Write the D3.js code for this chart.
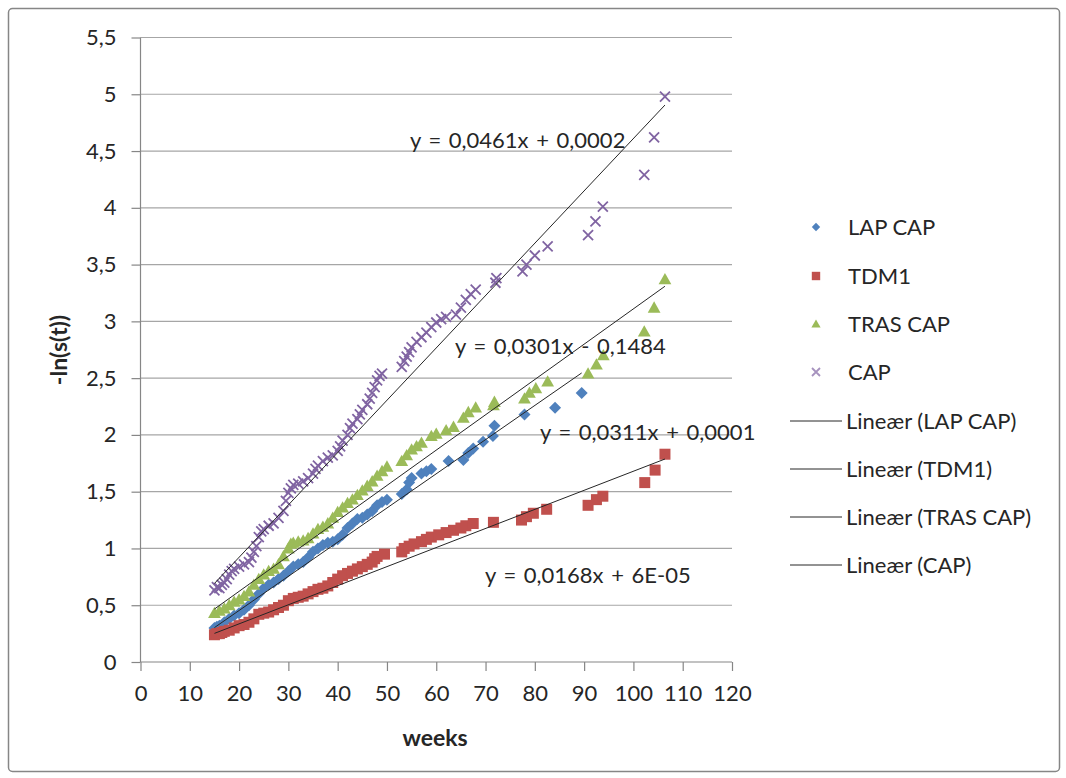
<!DOCTYPE html>
<html>
<head>
<meta charset="utf-8">
<script src="https://cdn.jsdelivr.net/npm/d3@7"></script>
<style>
  body { margin: 0; background: #fff; }
  svg text { font-family: Lato, "Open Sans", sans-serif; fill: #262626; }
</style>
</head>
<body>
<svg id="chart" width="1066" height="778"></svg>
<script>

/**
 * Data: [weeks, -ln(s(t))]
 */
const lapCap = [
  [15,0.30],[15.5,0.31],[16,0.32],[17,0.35],[18,0.38],[19,0.41],[20,0.43],[21,0.46],[22,0.50],[23,0.55],
  [24,0.60],[25,0.65],[26,0.68],[27,0.70],[28,0.73],[29,0.76],[30,0.80],[31,0.84],[32,0.86],[33,0.88],
  [34,0.92],[35,0.97],[36,1.00],[37,1.03],[38,1.05],[39,1.06],[40,1.08],[41,1.12],[42,1.18],[43,1.22],
  [44,1.26],[45,1.27],[46,1.30],[47,1.33],[48,1.38],[49,1.41],[50,1.43],[53,1.48],[54,1.52],[54.5,1.58],
  [55,1.62],[57,1.66],[58,1.68],[59,1.70],[62.5,1.77],[65.5,1.78],[66.5,1.84],[67.5,1.88],[69.5,1.94],
  [71.5,1.99],[71.8,2.08],[77.9,2.18],[84.1,2.24],[89.5,2.37]
];

const tdm1 = [
  [15,0.24],[15.5,0.25],[16,0.25],[16.5,0.26],[17,0.27],[18,0.28],[19,0.30],[20,0.32],[21,0.33],[22,0.35],
  [23,0.38],[24,0.42],[25,0.43],[26,0.44],[27,0.46],[28,0.48],[29,0.50],[30,0.54],[31,0.56],[32,0.57],
  [33,0.58],[34,0.60],[35,0.62],[36,0.64],[37,0.65],[38,0.67],[39,0.70],[40,0.73],[41,0.76],[42,0.78],
  [43,0.80],[44,0.82],[45,0.84],[46,0.86],[47,0.88],[47.5,0.91],[48,0.93],[49.5,0.95],[53,0.97],[53.5,1.00],
  [54.5,1.02],[55.5,1.04],[57,1.06],[58,1.08],[59,1.10],[60.5,1.12],[62,1.14],[63.5,1.16],[65,1.18],[66,1.20],
  [67.5,1.22],[71.6,1.23],[77.3,1.25],[78.3,1.28],[79.7,1.31],[82.4,1.345],[90.8,1.38],[92.5,1.43],[93.8,1.46],
  [102.3,1.58],[104.4,1.69],[106.4,1.83]
];

const trasCap = [
  [15,0.43],[16,0.45],[17,0.47],[18,0.50],[19,0.53],[20,0.55],[21,0.58],[22,0.62],[23,0.68],[24,0.73],
  [25,0.77],[26,0.80],[27,0.82],[28,0.86],[29,0.93],[30,1.00],[30.5,1.04],[31,1.05],[32,1.06],[33,1.07],
  [34,1.09],[35,1.13],[36,1.17],[37,1.19],[38,1.22],[39,1.27],[40,1.32],[41,1.36],[42,1.40],[43,1.43],
  [44,1.47],[45,1.51],[46,1.55],[47,1.59],[48,1.64],[49,1.68],[50,1.72],[53,1.77],[54,1.82],[55,1.87],
  [56,1.90],[57,1.93],[59,1.99],[60,2.01],[62,2.04],[63.5,2.07],[65.5,2.15],[66.5,2.20],[68,2.24],[71.6,2.26],
  [71.8,2.29],[77.9,2.32],[78.9,2.37],[80.2,2.41],[82.6,2.47],[90.8,2.54],[92.5,2.62],[93.9,2.70],
  [102.2,2.91],[104.2,3.12],[106.4,3.37]
];

const cap = [
  [15,0.63],[15.5,0.66],[16,0.65],[16.5,0.68],[17,0.70],[17.5,0.73],[18,0.77],[18.5,0.80],[19,0.82],[20,0.84],
  [21,0.86],[22,0.88],[22.5,0.92],[23,0.97],[23.5,1.02],[24,1.10],[24.5,1.15],[25,1.17],[26,1.20],[27,1.22],
  [28,1.27],[29,1.33],[29.5,1.42],[30,1.49],[30.5,1.53],[31,1.56],[32,1.57],[33,1.59],[34,1.62],[35,1.66],
  [35.5,1.70],[36,1.73],[37,1.77],[38,1.80],[39,1.82],[40,1.86],[40.5,1.90],[41,1.95],[42,2.00],[42.5,2.06],
  [43,2.10],[44,2.14],[44.5,2.18],[45,2.22],[46,2.27],[46.5,2.32],[47,2.37],[47.5,2.42],[48,2.48],[48.5,2.52],
  [49,2.54],[53,2.60],[53.5,2.65],[54,2.69],[54.5,2.73],[55,2.77],[56,2.82],[57,2.86],[58,2.90],[59,2.95],
  [60,2.99],[61,3.02],[62,3.04],[64,3.06],[65,3.12],[66,3.19],[67,3.24],[68,3.28],[72,3.34],[72.2,3.38],
  [77.5,3.44],[78.3,3.50],[80,3.58],[82.6,3.66],[90.8,3.76],[92.3,3.88],[93.8,4.01],[102.2,4.29],[104.2,4.62],
  [106.4,4.98]
];

const seriesNames = ["LAP CAP", "TDM1", "TRAS CAP", "CAP"];
const seriesColors = ["#4f81bd", "#c0504d", "#9bbb59", "#8064a2"];
// trendline coefficients [slope, intercept]; label text as printed in the chart
const trendCoef = [[0.0301, -0.1484], [0.0168, 0.00006], [0.0311, 0.0001], [0.0461, 0.0002]];
const trendLabels = ["y = 0,0301x - 0,1484", "y = 0,0168x + 6E-05", "y = 0,0311x + 0,0001", "y = 0,0461x + 0,0002"];
const xTicks = [0, 10, 20, 30, 40, 50, 60, 70, 80, 90, 100, 110, 120];
const yTicks = [0, 0.5, 1, 1.5, 2, 2.5, 3, 3.5, 4, 4.5, 5, 5.5];

/**
 * Layout
 */
const plot = { left: 140.5, right: 732, top: 37.5, bottom: 662 };
const fontSize = 22;
const svg = d3.select("#chart");

const x = d3.scaleLinear().domain([0, 120]).range([plot.left, plot.right]);
const y = d3.scaleLinear().domain([0, 5.5]).range([plot.bottom, plot.top]);
const fmt = d => String(d).replace(".", ",");

// outer chart border
svg.append("rect")
  .attr("x", 8.5).attr("y", 8.5)
  .attr("width", 1051).attr("height", 763)
  .attr("rx", 4)
  .attr("fill", "none")
  .attr("stroke", "#868686")
  .attr("stroke-width", 1.5);

// gridlines
svg.append("g")
  .selectAll("line")
  .data(yTicks.filter(d => d > 0))
  .join("line")
  .attr("x1", plot.left).attr("x2", plot.right)
  .attr("y1", d => y(d)).attr("y2", d => y(d))
  .attr("stroke", "#a6a6a6")
  .attr("stroke-width", 1.2);

// y axis
const yAxis = svg.append("g")
  .attr("transform", "translate(" + plot.left + ",0)")
  .call(d3.axisLeft(y).tickValues(yTicks).tickFormat(fmt).tickSize(9).tickPadding(15));

// x axis
const xAxis = svg.append("g")
  .attr("transform", "translate(0," + plot.bottom + ")")
  .call(d3.axisBottom(x).tickValues(xTicks).tickFormat(d => d).tickSize(9).tickPadding(14));

[yAxis, xAxis].forEach(function(ax) {
  ax.select(".domain").attr("stroke", "#868686").attr("stroke-width", 1.2);
  ax.selectAll(".tick line").attr("stroke", "#868686").attr("stroke-width", 1.2);
  ax.selectAll(".tick text").attr("font-size", fontSize).attr("fill", "#262626")
    .style("font-family", "Lato, 'Open Sans', sans-serif");
});
xAxis.select(".domain").attr("d", "M" + plot.left + ",0H" + plot.right);
yAxis.select(".domain").attr("d", "M0," + plot.bottom + "V" + plot.top);

// axis titles
svg.append("text")
  .attr("x", 435).attr("y", 746)
  .attr("text-anchor", "middle")
  .attr("font-size", 23).attr("font-weight", "bold")
  .text("weeks");

svg.append("text")
  .attr("transform", "translate(67,350) rotate(-90)")
  .attr("text-anchor", "middle")
  .attr("font-size", 23).attr("font-weight", "bold")
  .text("-ln(s(t))");

/**
 * Markers
 */
function markerPath(i, s) {
  if (i === 0) return "M0," + (-s) + "L" + s + ",0L0," + s + "L" + (-s) + ",0Z";
  if (i === 1) return "M" + (-s) + "," + (-s) + "H" + s + "V" + s + "H" + (-s) + "Z";
  if (i === 2) return "M0," + (-s * 1.1) + "L" + (s * 1.1) + "," + (s * 0.85) + "H" + (-s * 1.1) + "Z";
  return "M" + (-s) + "," + (-s) + "L" + s + "," + s + "M" + (-s) + "," + s + "L" + s + "," + (-s);
}

function styleMarker(sel, i) {
  if (i === 3) {
    sel.attr("fill", "none").attr("stroke", seriesColors[i]).attr("stroke-width", 1.8);
  } else {
    sel.attr("fill", seriesColors[i]);
  }
}

const allSeries = [lapCap, tdm1, trasCap, cap];
const sizes = [6, 5.5, 5.8, 5];

allSeries.forEach(function(data, i) {
  svg.append("g")
    .attr("class", "series")
    .selectAll("path")
    .data(data)
    .join("path")
    .attr("d", markerPath(i, sizes[i]))
    .attr("transform", d => "translate(" + x(d[0]) + "," + y(d[1]) + ")")
    .call(styleMarker, i);
});

// linear trendlines across each series' week range
allSeries.forEach(function(data, i) {
  const ext = d3.extent(data, d => d[0]);
  const c = trendCoef[i];
  svg.append("line")
    .attr("x1", x(ext[0])).attr("y1", y(c[0] * ext[0] + c[1]))
    .attr("x2", x(ext[1])).attr("y2", y(c[0] * ext[1] + c[1]))
    .attr("stroke", "#262626")
    .attr("stroke-width", 1);
});

// trendline equations
const labelPos = [[455, 354], [485, 583], [540, 440], [410, 148]];
svg.append("g")
  .selectAll("text")
  .data(trendLabels)
  .join("text")
  .attr("x", (d, i) => labelPos[i][0])
  .attr("y", (d, i) => labelPos[i][1])
  .attr("font-size", fontSize)
  .attr("word-spacing", 2)
  .text(d => d);

/**
 * Legend
 */
const legend = svg.append("g");
const rowY = [227, 276, 324, 372, 421, 469, 517, 565];

seriesNames.forEach(function(name, i) {
  legend.append("path")
    .attr("d", markerPath(i, i === 3 ? 4 : 4.2))
    .attr("transform", "translate(816," + rowY[i] + ")")
    .call(styleMarker, i)
    .attr("opacity", i === 3 ? 0.7 : 1);
  legend.append("text")
    .attr("x", 848).attr("y", rowY[i])
    .attr("dy", "0.35em")
    .attr("font-size", fontSize)
    .text(name);
});

seriesNames.forEach(function(name, i) {
  const ry = rowY[i + 4];
  legend.append("line")
    .attr("x1", 790).attr("x2", 842)
    .attr("y1", ry).attr("y2", ry)
    .attr("stroke", "#262626")
    .attr("stroke-width", 1);
  legend.append("text")
    .attr("x", 846).attr("y", ry)
    .attr("dy", "0.35em")
    .attr("font-size", fontSize)
    .text("Lineær (" + name + ")");
});

</script>
</body>
</html>
